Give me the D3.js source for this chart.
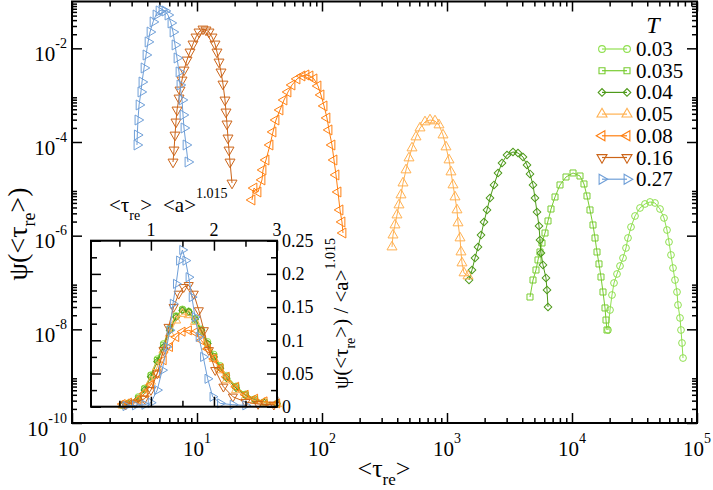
<!DOCTYPE html>
<meta charset="utf-8">
<head>
  <title>psi(tau_re) for several T</title>
</head>
<style>
body { margin: 0; background: #fff; }
svg, svg text { font-family: 'Liberation Serif', 'DejaVu Serif', serif; }
</style>
<body>
<svg width="713" height="490" font-family="Liberation Serif, DejaVu Serif, serif"></svg>

<script src="https://cdnjs.cloudflare.com/ajax/libs/d3/7.8.5/d3.min.js"></script>
<script>
// ---- data ----
const temps  = ["0.03", "0.035", "0.04", "0.05", "0.08", "0.16", "0.27"];
const colors = ["#90e050", "#78cc30", "#4e9a1a", "#ffb050", "#ff7f10", "#cc6418", "#6f9fd8"];
const shapes = ["circle", "square", "diamond", "up", "left", "down", "right"];

const tau03 = [19410, 20140, 20890, 21680, 22910, 24210, 25590, 27040, 28050, 29650, 31920, 35000, 38370, 42080,
               46130, 50590, 54450, 57540, 59700, 61940, 64270, 66680, 69180, 70470, 73120, 74470, 75860, 77270];
const psi03 = [9.68e-9, 2.59e-8, 5.41e-8, 9.76e-8, 1.52e-7, 2.25e-7, 3.34e-7, 5.46e-7, 8.92e-7, 1.53e-6, 2.63e-6, 3.90e-6, 4.75e-6, 5.24e-6,
               4.99e-6, 3.71e-6, 2.39e-6, 1.32e-6, 7.33e-7, 3.87e-7, 2.04e-7, 1.13e-7, 6.27e-8, 3.31e-8, 1.75e-8, 9.68e-9, 5.11e-9, 2.44e-9];

const tau035 = [4613, 4875, 5152, 5346, 5546, 5754, 6082, 6427, 6792, 7312, 8017, 8954, 10190,
                11590, 12470, 13180, 13930, 14720, 15280, 15850, 16440, 17060, 17700, 18370, 18710, 19060];
const psi035 = [4.90e-8, 1.13e-7, 1.85e-7, 3.03e-7, 4.48e-7, 6.98e-7, 1.14e-6, 2.06e-6, 3.71e-6, 6.70e-6, 1.21e-5, 1.79e-5, 2.18e-5,
                1.88e-5, 1.27e-5, 7.04e-6, 3.54e-6, 1.69e-6, 8.92e-7, 4.48e-7, 2.49e-7, 1.31e-7, 6.27e-8, 2.86e-8, 1.58e-8, 9.68e-9];

const tau04 = [1500, 1585, 1675, 1770, 1871, 1977, 2089, 2208, 2377, 2559, 2754, 3020, 3373, 3698,
               4055, 4365, 4613, 4875, 5058, 5248, 5445, 5546, 5649, 5861, 6194, 6310, 6427];
const psi04 = [1.13e-7, 1.85e-7, 3.34e-7, 5.73e-7, 1.03e-6, 1.96e-6, 3.54e-6, 6.38e-6, 1.21e-5, 2.18e-5, 3.56e-5, 5.28e-5, 6.12e-5, 5.83e-5,
               4.79e-5, 3.23e-5, 2.08e-5, 1.21e-5, 6.38e-6, 3.20e-6, 1.61e-6, 8.09e-7, 4.27e-7, 2.37e-7, 1.25e-7, 6.92e-8, 3.00e-8];

const tau05 = [363.1, 369.8, 383.7, 398.1, 413.0, 428.5, 444.6, 469.9, 496.6, 524.8, 564.9, 608.2, 666.8, 731.2, 801.7,
               862.9, 929.0, 981.7, 1038, 1076, 1117, 1159, 1202, 1225, 1271, 1294, 1318, 1368, 1472];
const psi05 = [5.73e-7, 1.03e-6, 1.69e-6, 2.76e-6, 4.52e-6, 7.39e-6, 1.33e-5, 2.53e-5, 4.56e-5, 7.45e-5, 1.28e-4, 1.99e-4, 2.68e-4, 2.95e-4, 2.81e-4,
               2.31e-4, 1.41e-4, 7.83e-5, 4.13e-5, 2.29e-5, 1.21e-5, 6.70e-6, 3.54e-6, 1.87e-6, 8.92e-7, 4.48e-7, 2.61e-7, 1.60e-7, 1.38e-7];

const tau08 = [27.54, 28.57, 30.76, 33.11, 33.73, 35.64, 38.37, 40.55, 42.85, 46.13, 49.66, 53.46, 57.54, 63.10, 69.18,
               74.47, 80.17, 86.29, 92.90, 98.17, 103.8, 109.6, 113.8, 120.2, 124.7, 129.4, 134.3, 139.3, 144.5, 147.2];
const psi08 = [5.78e-6, 1.04e-5, 8.57e-6, 1.55e-5, 2.53e-5, 4.13e-5, 8.63e-5, 1.64e-4, 2.95e-4, 4.83e-4, 7.89e-4, 1.17e-3, 1.65e-3, 2.22e-3, 2.57e-3,
               2.70e-3, 2.57e-3, 2.22e-3, 1.57e-3, 1.01e-3, 5.88e-4, 3.26e-4, 1.81e-4, 8.63e-5, 4.13e-5, 1.98e-5, 8.57e-6, 3.54e-6, 1.96e-6, 1.14e-6];

const tau16 = [6.43, 6.55, 6.67, 6.79, 6.92, 7.18, 7.31, 7.59, 7.87, 8.32, 8.79, 9.29, 9.82, 10.38, 11.17,
               11.80, 12.47, 13.18, 13.93, 14.45, 15.00, 15.56, 16.14, 16.75, 17.06, 17.38, 17.70, 18.03, 18.37, 19.06];
const psi16 = [3.74e-5, 6.76e-5, 1.41e-4, 2.68e-4, 4.83e-4, 8.71e-4, 1.29e-3, 2.11e-3, 3.45e-3, 5.64e-3, 8.36e-3, 1.24e-2, 1.75e-2, 2.24e-2, 2.59e-2,
               2.47e-2, 2.24e-2, 1.75e-2, 1.24e-2, 8.36e-3, 5.11e-3, 3.13e-3, 1.73e-3, 7.89e-4, 4.38e-4, 2.43e-4, 1.22e-4, 6.76e-5, 3.74e-5, 1.33e-5];

const tau27 = [3.31, 3.33, 3.37, 3.44, 3.56, 3.63, 3.77, 3.91, 4.06, 4.21, 4.45, 4.70, 4.97, 5.25,
               5.55, 5.86, 6.19, 6.43, 6.67, 6.92, 7.18, 7.31, 7.59, 7.73, 7.87, 8.17, 8.47];
const psi27 = [8.63e-5, 1.41e-4, 2.95e-4, 6.18e-4, 1.17e-3, 1.91e-3, 3.81e-3, 7.21e-3, 1.37e-2, 2.23e-2, 3.66e-2, 5.15e-2, 6.28e-2, 6.59e-2,
               6.28e-2, 5.15e-2, 3.48e-2, 2.23e-2, 1.18e-2, 6.22e-3, 3.13e-3, 1.65e-3, 7.89e-4, 3.78e-4, 1.99e-4, 8.63e-5, 3.74e-5];

// inset: scaled time <tau_re><a>^1.015 and psi/<a>^1.015
const insetX    = [0.55, 0.65, 0.8, 0.9, 1.0, 1.1, 1.2, 1.3, 1.4, 1.5, 1.6, 1.7, 1.8, 1.9, 2.0, 2.1, 2.2, 2.35, 2.5, 2.65, 2.8, 3.0];
const insetY03  = [0.003, 0.006, 0.015, 0.028, 0.048, 0.072, 0.095, 0.118, 0.137, 0.147, 0.144, 0.133, 0.117, 0.098, 0.079, 0.062, 0.047, 0.031, 0.019, 0.012, 0.007, 0.005];
const insetY035 = [0.002, 0.005, 0.013, 0.027, 0.047, 0.070, 0.093, 0.117, 0.136, 0.146, 0.142, 0.130, 0.113, 0.094, 0.076, 0.060, 0.045, 0.030, 0.018, 0.011, 0.007, 0.004];
const insetY04  = [0.002, 0.004, 0.012, 0.025, 0.045, 0.068, 0.090, 0.115, 0.135, 0.145, 0.143, 0.132, 0.115, 0.095, 0.075, 0.058, 0.043, 0.028, 0.017, 0.010, 0.006, 0.004];
const insetY05  = [0.002, 0.004, 0.010, 0.020, 0.038, 0.060, 0.085, 0.110, 0.130, 0.140, 0.138, 0.128, 0.110, 0.090, 0.072, 0.055, 0.040, 0.025, 0.015, 0.009, 0.006, 0.004];
const insetY08  = [0.004, 0.006, 0.010, 0.020, 0.033, 0.050, 0.070, 0.090, 0.105, 0.113, 0.115, 0.112, 0.100, 0.087, 0.072, 0.058, 0.045, 0.030, 0.018, 0.012, 0.008, 0.005];
const insetX16  = [0.6, 0.75, 0.9, 1.0, 1.1, 1.2, 1.28, 1.36, 1.44, 1.52, 1.6, 1.68, 1.76, 1.84, 1.92, 2.02, 2.15, 2.3, 2.5, 2.7, 2.95];
const insetY16  = [0.003, 0.006, 0.012, 0.025, 0.050, 0.085, 0.120, 0.150, 0.170, 0.180, 0.183, 0.170, 0.145, 0.115, 0.085, 0.055, 0.030, 0.015, 0.007, 0.004, 0.003];
const insetX27  = [0.6, 0.75, 0.9, 1.0, 1.1, 1.18, 1.25, 1.3, 1.35, 1.4, 1.45, 1.5, 1.55, 1.6, 1.65, 1.7, 1.76, 1.83, 1.9, 1.98, 2.1, 2.3, 2.5];
const insetY27  = [0.001, 0.002, 0.003, 0.006, 0.025, 0.055, 0.090, 0.115, 0.155, 0.185, 0.220, 0.236, 0.220, 0.195, 0.165, 0.135, 0.105, 0.075, 0.042, 0.015, 0.005, 0.003, 0.002];

const xTickExp = [0, 1, 2, 3, 4, 5];
const yTickExp = [-10, -8, -6, -4, -2];
const insetXTicks = [1, 2, 3];
const insetYTicks = [0, 0.05, 0.1, 0.15, 0.2, 0.25];

const mainTau = [tau03, tau035, tau04, tau05, tau08, tau16, tau27];
const mainPsi = [psi03, psi035, psi04, psi05, psi08, psi16, psi27];
const insetXs = [insetX, insetX, insetX, insetX, insetX, insetX16, insetX27];
const insetYs = [insetY03, insetY035, insetY04, insetY05, insetY08, insetY16, insetY27];

// ---- drawing ----
var FONT = "Liberation Serif, DejaVu Serif, serif";
var svg = d3.select("svg");

var x = d3.scaleLog().domain([1, 1e5]).range([72, 697]);
var y = d3.scaleLog().domain([1e-10, 1e-1]).range([423, 1.5]);

var shapeDefs = {
  circle:  [d3.symbolCircle, 0, 1],
  square:  [d3.symbolSquare, 0, 1],
  diamond: [d3.symbolSquare, 45, 0.8],
  up:      [d3.symbolTriangle, 0, 1.2],
  left:    [d3.symbolTriangle, -90, 1.2],
  down:    [d3.symbolTriangle, 180, 1.2],
  right:   [d3.symbolTriangle, 90, 1.2]
};

function drawSeries(g, xs, ys, xs_, ys_, color, shape, size) {
  var pts = xs.map(function(v, i) { return [xs_(v), ys_(ys[i])]; });
  g.append("path")
    .attr("d", d3.line()(pts))
    .attr("fill", "none")
    .attr("stroke", color)
    .attr("stroke-width", 1);
  var def = shapeDefs[shape];
  var sym = d3.symbol(def[0], size * def[2])();
  g.selectAll(null).data(pts).enter().append("path")
    .attr("d", sym)
    .attr("transform", function(d) { return "translate(" + d[0] + "," + d[1] + ") rotate(" + def[1] + ")"; })
    .attr("fill", "none")
    .attr("stroke", color)
    .attr("stroke-width", 1);
}

function ticks(axis, scale, values, len, tr) {
  svg.append("g").attr("transform", tr)
    .call(axis(scale).tickValues(values).tickSize(-len).tickFormat(""))
    .call(function(s) { s.select(".domain").remove(); })
    .call(function(s) { s.selectAll("line").attr("stroke-width", 1.5); });
}

function label(px, py) {
  return svg.append("text").attr("x", px).attr("y", py).attr("font-family", FONT);
}

// main tick positions
var xMajor = xTickExp.map(function(e) { return Math.pow(10, e); });
var xMinor = [];
xMajor.slice(0, -1).forEach(function(m) { for (var k = 2; k < 10; k++) xMinor.push(k * m); });
var yMajor = yTickExp.map(function(e) { return Math.pow(10, e); });
var yMinor = [];
yMajor.forEach(function(m) { for (var k = 2; k < 10; k++) yMinor.push(k * m); });

ticks(d3.axisBottom, x, xMajor, 10, "translate(0,423)");
ticks(d3.axisBottom, x, xMinor, 5, "translate(0,423)");
ticks(d3.axisTop, x, xMajor, 10, "translate(0,1.5)");
ticks(d3.axisTop, x, xMinor, 5, "translate(0,1.5)");
ticks(d3.axisLeft, y, yMajor, 10, "translate(72,0)");
ticks(d3.axisLeft, y, yMinor, 5, "translate(72,0)");
ticks(d3.axisRight, y, yMajor, 10, "translate(697,0)");
ticks(d3.axisRight, y, yMinor, 5, "translate(697,0)");

svg.append("rect")
  .attr("x", 72).attr("y", 1.5).attr("width", 625).attr("height", 421.5)
  .attr("fill", "none").attr("stroke", "#000").attr("stroke-width", 2);

// tick labels
xTickExp.forEach(function(e) {
  var t = label(x(Math.pow(10, e)), 456).attr("text-anchor", "middle").attr("font-size", 21);
  t.append("tspan").text("10");
  t.append("tspan").attr("dy", -13).attr("font-size", 14).text(e);
});
yTickExp.forEach(function(e) {
  var t = label(67, y(Math.pow(10, e)) + 12.5).attr("text-anchor", "end").attr("font-size", 21);
  t.append("tspan").text("10");
  t.append("tspan").attr("dy", -13).attr("font-size", 14).text(e);
});

// axis titles
var xt = label(384, 477).attr("text-anchor", "middle").attr("font-size", 26);
xt.append("tspan").text("<τ");
xt.append("tspan").attr("dy", 8).attr("font-size", 17).text("re");
xt.append("tspan").attr("dy", -8).text(">");

var yt = label(0, 0).attr("transform", "translate(27,234) rotate(-90)")
  .attr("text-anchor", "middle").attr("font-size", 28);
yt.append("tspan").text("ψ(<τ");
yt.append("tspan").attr("dy", 8).attr("font-size", 18).text("re");
yt.append("tspan").attr("dy", -8).text(">)");

// main series
temps.forEach(function(T, i) {
  drawSeries(svg.append("g"), mainTau[i], mainPsi[i], x, y, colors[i], shapes[i], 36);
});

// legend
label(653, 33).attr("text-anchor", "middle")
  .attr("font-size", 24).attr("font-style", "italic").text("T");
temps.forEach(function(T, i) {
  var cy = 49 + i * 21.7;
  var g = svg.append("g");
  var def = shapeDefs[shapes[i]];
  var sym = d3.symbol(def[0], 36 * def[2])();
  g.append("line").attr("x1", 602).attr("x2", 627).attr("y1", cy).attr("y2", cy)
    .attr("stroke", colors[i]).attr("stroke-width", 1.2);
  [602, 627].forEach(function(px) {
    g.append("path").attr("d", sym)
      .attr("transform", "translate(" + px + "," + cy + ") rotate(" + def[1] + ")")
      .attr("fill", "none").attr("stroke", colors[i]).attr("stroke-width", 1.1);
  });
  label(636, cy + 7).attr("font-size", 21).text(T);
});

// ---- inset ----
var ix = d3.scaleLinear().domain([0.05, 3]).range([91, 277]);
var iy = d3.scaleLinear().domain([0, 0.25]).range([406.7, 240.7]);

svg.append("rect").attr("x", 91).attr("y", 240.7).attr("width", 186).attr("height", 166)
  .attr("fill", "#fff");

var ig = svg.append("g");
temps.forEach(function(T, i) {
  drawSeries(ig.append("g"), insetXs[i], insetYs[i], ix, iy, colors[i], shapes[i], 30);
});

var ixMinor = [0.5, 1.5, 2.5];
var iyMinor = [0.025, 0.075, 0.125, 0.175, 0.225];
ticks(d3.axisBottom, ix, insetXTicks, 10, "translate(0,406.7)");
ticks(d3.axisBottom, ix, ixMinor, 6, "translate(0,406.7)");
ticks(d3.axisTop, ix, insetXTicks, 10, "translate(0,240.7)");
ticks(d3.axisTop, ix, ixMinor, 6, "translate(0,240.7)");
ticks(d3.axisLeft, iy, insetYTicks, 10, "translate(91,0)");
ticks(d3.axisLeft, iy, iyMinor, 6, "translate(91,0)");
ticks(d3.axisRight, iy, insetYTicks, 10, "translate(277,0)");
ticks(d3.axisRight, iy, iyMinor, 6, "translate(277,0)");

svg.append("rect").attr("x", 91).attr("y", 240.7).attr("width", 186).attr("height", 166)
  .attr("fill", "none").attr("stroke", "#000").attr("stroke-width", 2);

insetXTicks.forEach(function(v) {
  label(ix(v), 236).attr("text-anchor", "middle").attr("font-size", 18).text(v);
});
insetYTicks.forEach(function(v) {
  label(282, iy(v)).attr("dy", "0.35em").attr("font-size", 18).text(v);
});

var it = label(109, 212).attr("font-size", 21);
it.append("tspan").text("<τ");
it.append("tspan").attr("dy", 8).attr("font-size", 14).text("re");
it.append("tspan").attr("dy", -8).text(">");
it.append("tspan").attr("x", 163).text("<a>");
it.append("tspan").attr("dy", -14).attr("font-size", 14).text("1.015");

var ir = label(0, 0).attr("transform", "translate(348,238) rotate(-90)")
  .attr("text-anchor", "end").attr("font-size", 21);
ir.append("tspan").text("ψ(<τ");
ir.append("tspan").attr("dy", 7).attr("font-size", 14).text("re");
ir.append("tspan").attr("dy", -7).text(">) / <a>");
ir.append("tspan").attr("dy", -13).attr("font-size", 14).text("1.015");
</script>
</body>
</html>
